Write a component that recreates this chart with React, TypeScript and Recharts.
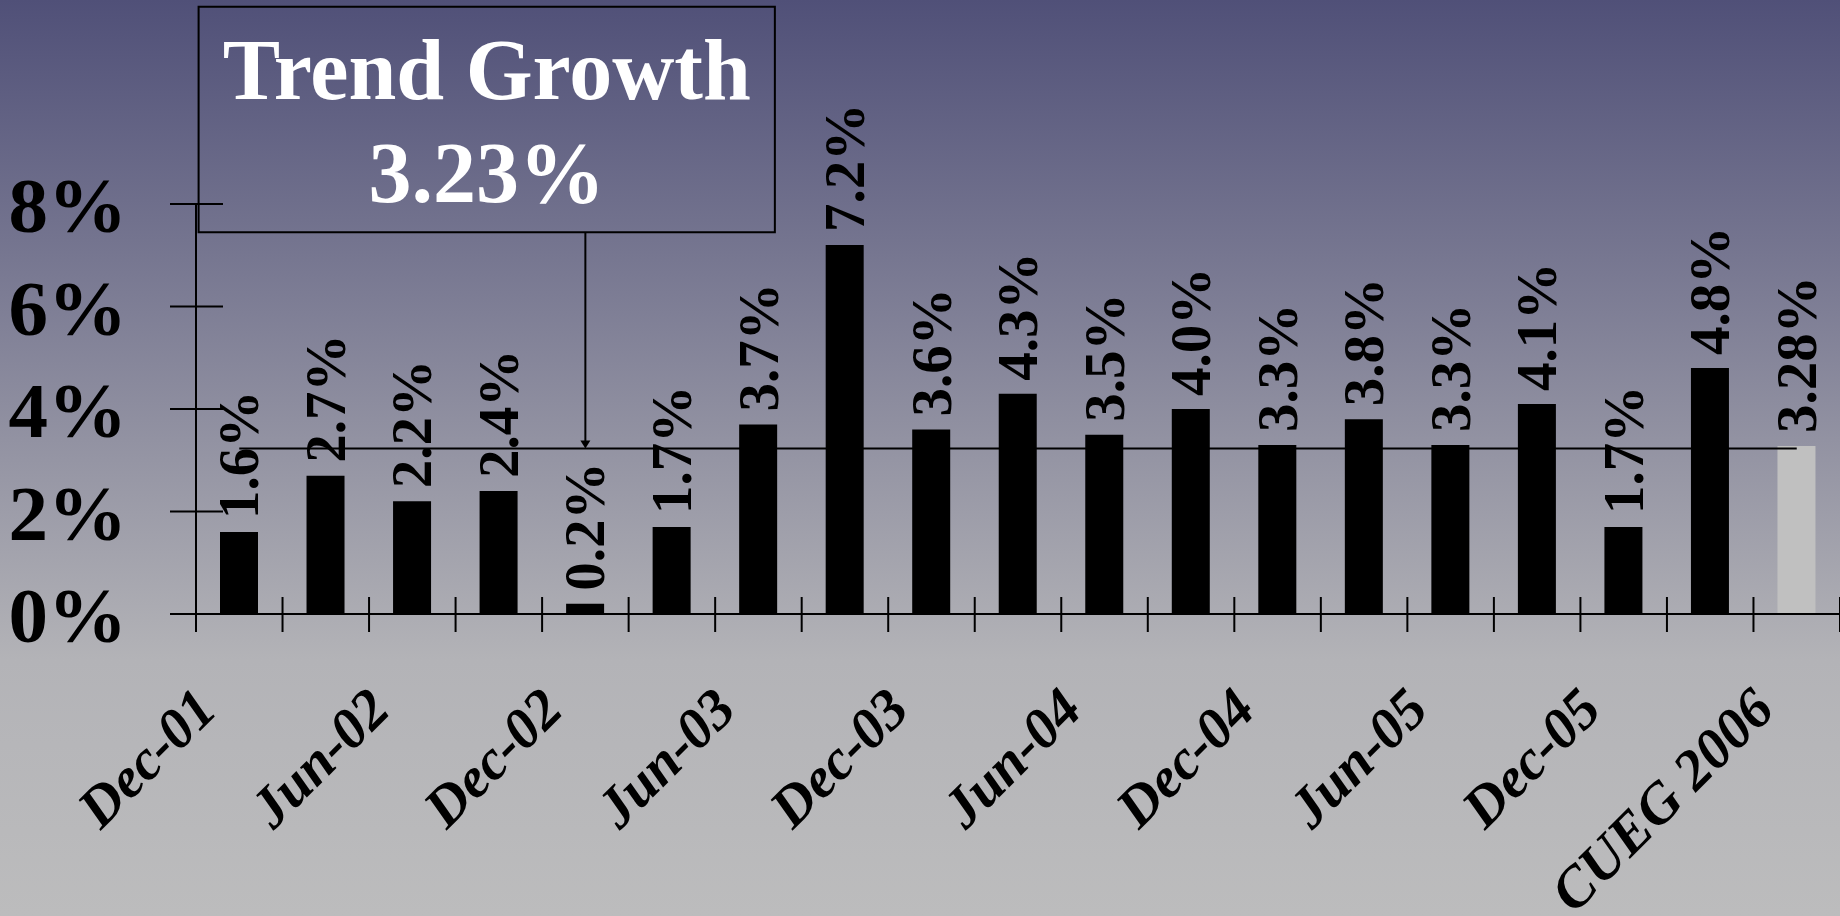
import React from 'react';
import {
  ComposedChart,
  Bar,
  Line,
  XAxis,
  YAxis,
  Cell,
  LabelList,
  ReferenceArea,
  ReferenceLine,
} from 'recharts';

// ---- data ----
const quarters = [
  'Dec-01', 'Mar-02', 'Jun-02', 'Sep-02', 'Dec-02', 'Mar-03', 'Jun-03', 'Sep-03',
  'Dec-03', 'Mar-04', 'Jun-04', 'Sep-04', 'Dec-04', 'Mar-05', 'Jun-05', 'Sep-05',
  'Dec-05', 'Mar-06', 'CUEG 2006',
];
const growth = [1.6, 2.7, 2.2, 2.4, 0.2, 1.7, 3.7, 7.2, 3.6, 4.3, 3.5, 4.0, 3.3, 3.8, 3.3, 4.1, 1.7, 4.8, 3.28];
const valueLabels = [
  '1.6%', '2.7%', '2.2%', '2.4%', '0.2%', '1.7%', '3.7%', '7.2%', '3.6%', '4.3%',
  '3.5%', '4.0%', '3.3%', '3.8%', '3.3%', '4.1%', '1.7%', '4.8%', '3.28%',
];
const forecastIndex = 18;
const trendGrowth = 3.23;
const trendTitle = 'Trend Growth';
const trendText = '3.23%';
const yTicks = [0, 2, 4, 6, 8];
const labelStep = 2;

const data = quarters.map((q, i) => ({
  x: i,
  name: q,
  growth: growth[i],
  label: valueLabels[i],
  trend: trendGrowth,
}));

const xTicks: number[] = [];
for (let i = 0; i < quarters.length; i++) {
  xTicks.push(i - 0.5);
  xTicks.push(i);
}
xTicks.push(quarters.length - 0.5);

const SERIF = '"Liberation Serif", "Times New Roman", Times, serif';

const XTick = (props: any) => {
  const { x, y, payload } = props;
  const v = payload.value as number;
  if (Math.abs(v - Math.round(v)) > 0.1) {
    return <line x1={x} x2={x} y1={y - 17} y2={y + 18} stroke="#000" strokeWidth={2} />;
  }
  if (v % labelStep !== 0) return null;
  const ax = x - 20;
  const ay = y + 98;
  return (
    <text
      x={ax}
      y={ay}
      textAnchor="end"
      transform={`rotate(-45 ${ax} ${ay})`}
      fontFamily={SERIF}
      fontWeight="bold"
      fontStyle="italic"
      fontSize={57}
      fill="#000"
    >
      {quarters[v]}
    </text>
  );
};

const YTick = (props: any) => {
  const { x, y, payload } = props;
  return (
    <g>
      <line x1={x - 26} x2={x + 27} y1={y} y2={y} stroke="#000" strokeWidth={2} />
      <text
        x={x - 69}
        y={y + 28}
        textAnchor="end"
        fontFamily={SERIF}
        fontWeight="bold"
        fontSize={79}
        fill="#000"
      >
        {`${payload.value}%`}
      </text>
    </g>
  );
};

const BarValueLabel = (props: any) => {
  const { x, y, width, value } = props;
  const cx = x + width / 2;
  const ty = y - 13;
  return (
    <text
      x={cx}
      y={ty}
      dy="0.34em"
      textAnchor="start"
      transform={`rotate(-90 ${cx} ${ty})`}
      fontFamily={SERIF}
      fontWeight="bold"
      fontSize={57}
      fill="#000"
    >
      {value}
    </text>
  );
};

const BoxLabel = (props: any) => {
  const vb = props.viewBox;
  const cx = vb.x + vb.width / 2;
  return (
    <g>
      <text x={cx} y={vb.y + 92} textAnchor="middle" fontFamily={SERIF} fontWeight="bold" fontSize={86} fill="#fff">
        {trendTitle}
      </text>
      <text x={cx} y={vb.y + 195} textAnchor="middle" fontFamily={SERIF} fontWeight="bold" fontSize={86} fill="#fff">
        {trendText}
      </text>
    </g>
  );
};

const ArrowShape = (props: any) => {
  const { x1, y1, x2, y2 } = props;
  const top = Math.min(y1, y2);
  const bot = Math.max(y1, y2);
  return (
    <g>
      <line x1={x1} x2={x2} y1={top} y2={bot - 6} stroke="#000" strokeWidth={2} />
      <polygon points={`${x1 - 5},${bot - 8} ${x1 + 5},${bot - 8} ${x1},${bot}`} fill="#000" />
    </g>
  );
};

export default function App() {
  return (
    <div
      style={{
        position: 'fixed',
        left: 0,
        top: 0,
        width: 1840,
        height: 916,
        overflow: 'hidden',
        background: 'linear-gradient(180deg, #505078 0%, #b3b3b7 72%, #bcbcbd 100%)',
      }}
    >
      <ComposedChart
        width={1840}
        height={916}
        data={data}
        margin={{ top: 204, right: 0, bottom: 0, left: 0 }}
      >
        <XAxis
          dataKey="x"
          type="number"
          domain={[-0.5, quarters.length - 0.5]}
          ticks={xTicks}
          interval={0}
          tick={<XTick />}
          tickLine={false}
          tickSize={0}
          tickMargin={0}
          axisLine={{ stroke: '#000', strokeWidth: 2 }}
          height={302}
          allowDataOverflow
        />
        <YAxis
          type="number"
          domain={[0, 8]}
          ticks={yTicks}
          interval={0}
          tick={<YTick />}
          tickLine={false}
          tickSize={0}
          tickMargin={0}
          axisLine={{ stroke: '#000', strokeWidth: 2 }}
          width={196}
          allowDataOverflow
        />
        <ReferenceArea
          x1={-0.47}
          x2={6.19}
          y1={7.45}
          y2={11.85}
          ifOverflow="visible"
          fill="none"
          fillOpacity={0}
          stroke="#000"
          strokeWidth={2}
          label={<BoxLabel />}
        />
        <Bar dataKey="growth" barSize={38} isAnimationActive={false}>
          {data.map((d, i) => (
            <Cell key={d.name} fill={i === forecastIndex ? '#c0c0c0' : '#000'} />
          ))}
          <LabelList dataKey="label" content={<BarValueLabel />} />
        </Bar>
        <Line
          dataKey="trend"
          stroke="#000"
          strokeWidth={2}
          dot={false}
          activeDot={false}
          isAnimationActive={false}
        />
        <ReferenceLine
          segment={[{ x: 4, y: 7.45 }, { x: 4, y: trendGrowth }]}
          ifOverflow="visible"
          stroke="#000"
          shape={<ArrowShape />}
        />
      </ComposedChart>
    </div>
  );
}
